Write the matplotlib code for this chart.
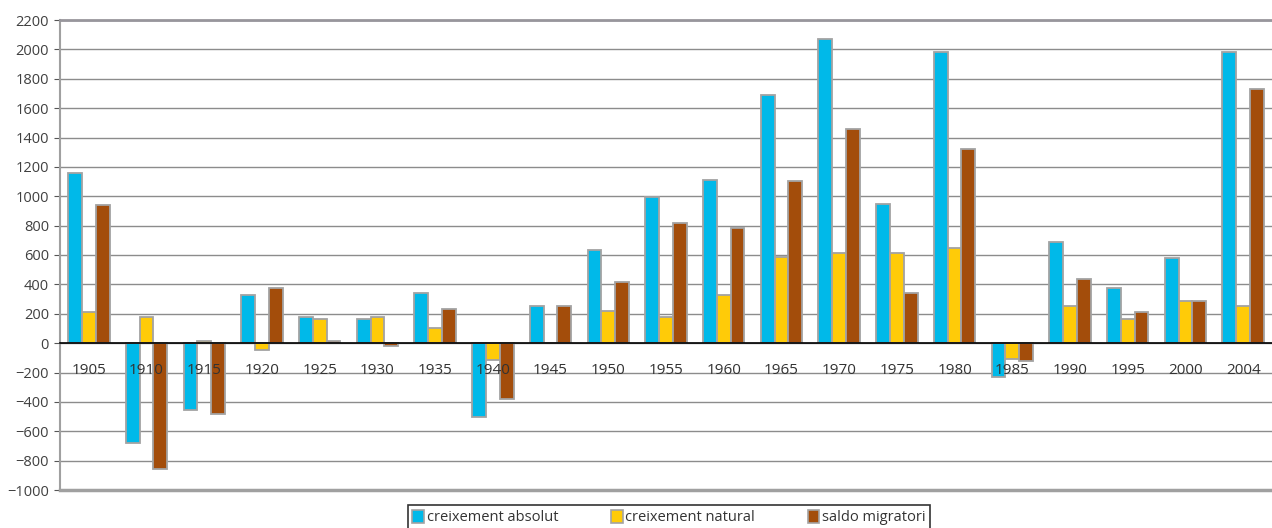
import numpy as np
import matplotlib
matplotlib.use("Agg")
import matplotlib.pyplot as plt
from matplotlib.patches import Patch

plt.rcParams['font.family'] = ['Open Sans', 'DejaVu Sans']

# data
years = ["1905", "1910", "1915", "1920", "1925", "1930", "1935", "1940", "1945", "1950",
         "1955", "1960", "1965", "1970", "1975", "1980", "1985", "1990", "1995", "2000", "2004"]
absolut = [1160, -680, -455, 330, 180, 165, 340, -500, 255, 635,
           995, 1110, 1690, 2070, 950, 1980, -230, 690, 375, 580, 1985]
natural = [215, 175, 15, -45, 165, 178, 100, -115, 0, 218,
           175, 328, 588, 615, 615, 645, -110, 252, 165, 288, 252]
migratori = [940, -860, -485, 375, 15, -20, 232, -380, 254, 415,
             820, 785, 1105, 1460, 343, 1325, -120, 437, 212, 288, 1732]

series_names = ["creixement absolut", "creixement natural", "saldo migratori"]
colors = ["#00B9E9", "#FFCB08", "#A34D0B"]
edge = "#A3A3A3"

fig = plt.figure(figsize=(12.72, 5.28), dpi=100)
ax = fig.add_axes([60 / 1272, 1 - 490 / 528, 1 - 60 / 1272, (490 - 20) / 528])

x = np.arange(len(years))
w = 0.24
for k, vals in enumerate([absolut, natural, migratori]):
    ax.bar(x + (k - 1) * w, vals, width=w, color=colors[k], edgecolor=edge,
           linewidth=1.3, zorder=2)

ax.set_xlim(-0.5, len(years) - 0.5)
ax.set_ylim(-1000, 2200)
ax.set_yticks(np.arange(-1000, 2201, 200))
ax.yaxis.grid(True, color="#8C8C8C", linewidth=1.0)
ax.set_axisbelow(True)

# category axis sits on the zero line, labels drawn over the bars
ax.spines['bottom'].set_position(('data', 0))
ax.spines['bottom'].set_color("black")
ax.spines['bottom'].set_linewidth(1.2)
ax.spines['bottom'].set_zorder(4)
ax.set_xticks(x)
ax.set_xticklabels(years)
ax.xaxis.set_zorder(5)
ax.tick_params(axis='x', length=0, pad=14, labelsize=11, labelcolor="#333333")
ax.tick_params(axis='y', length=4, color="#555555", labelsize=10.5,
               labelcolor="#404040", pad=4)

ax.spines['right'].set_visible(False)
ax.spines['top'].set_color("#98969C")
ax.spines['top'].set_linewidth(2)
ax.spines['left'].set_color("#A0A0A0")
ax.spines['left'].set_linewidth(1.5)
ax.axhline(-1000, color="#A0A0A0", linewidth=2.5, zorder=4, clip_on=False)

handles = [Patch(facecolor=c, edgecolor=edge, linewidth=1.2) for c in colors]
leg = fig.legend(handles, series_names, loc="upper center", ncol=3,
                 bbox_to_anchor=(669 / 1272, 1 - 498 / 528), frameon=True,
                 fancybox=False, edgecolor="black", fontsize=10.5,
                 handlelength=0.8, handleheight=1.0, handletextpad=0.2,
                 columnspacing=3.6, borderpad=0.3)
leg.get_frame().set_linewidth(1.2)
for t in leg.get_texts():
    t.set_color("#333333")

fig.savefig("out.png", dpi=100)
